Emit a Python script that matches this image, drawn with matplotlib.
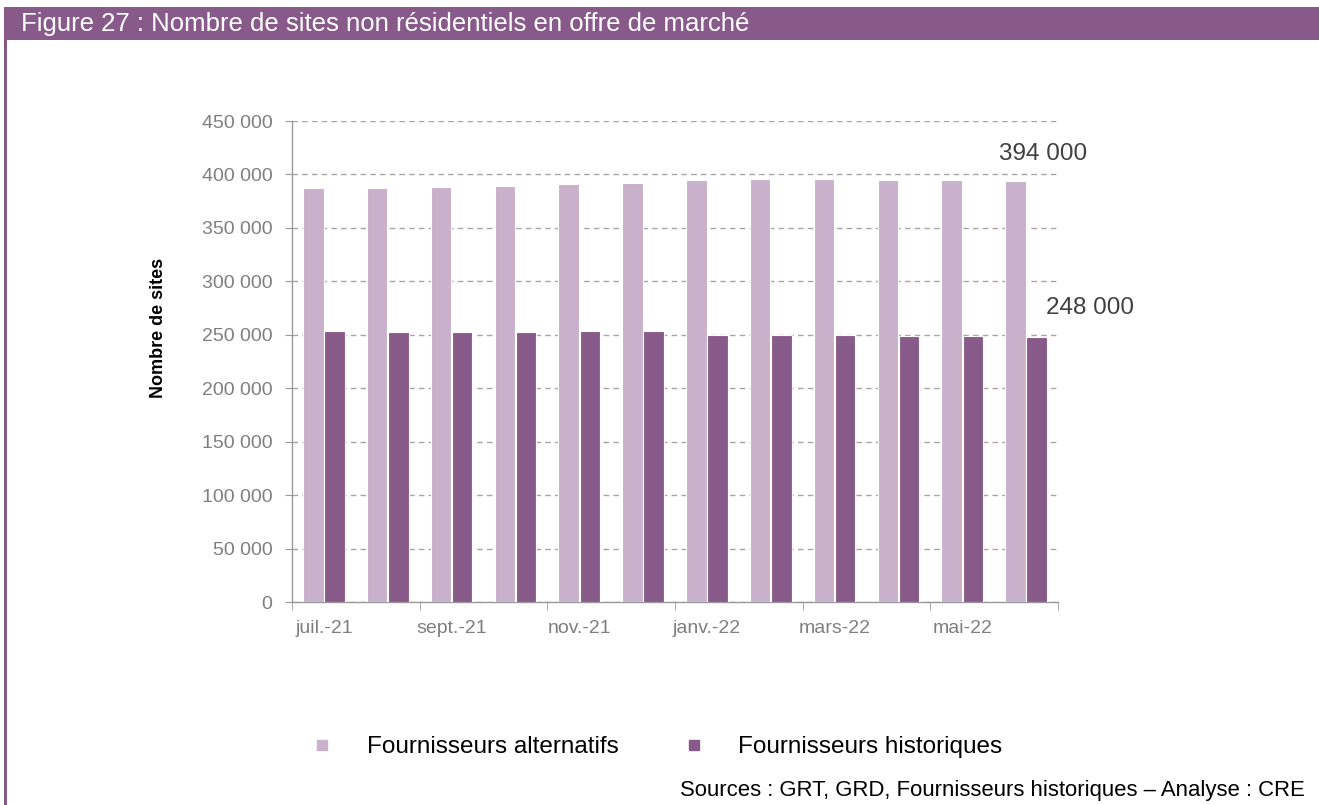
import matplotlib
matplotlib.use("Agg")
import matplotlib.pyplot as plt
from matplotlib.patches import Rectangle
from matplotlib.lines import Line2D
from matplotlib.ticker import FuncFormatter
import numpy as np

# ---- data ----
months = ["juil.-21", "août-21", "sept.-21", "oct.-21", "nov.-21", "déc.-21",
          "janv.-22", "févr.-22", "mars-22", "avr.-22", "mai-22", "juin-22"]
alternatifs = [387000, 387000, 388000, 389000, 391000, 392000,
               395000, 396000, 396000, 395000, 395000, 394000]
historiques = [254000, 253000, 253000, 253000, 254000, 254000,
               250000, 250000, 250000, 249000, 249000, 248000]
series_names = ["Fournisseurs alternatifs", "Fournisseurs historiques"]
title = "Figure 27 : Nombre de sites non résidentiels en offre de marché"
ylabel = "Nombre de sites"
source = "Sources : GRT, GRD, Fournisseurs historiques \u2013 Analyse : CRE"

c_light = "#C9B1CC"
c_dark = "#885A8A"
band = "#875A8A"

plt.rcParams['font.family'] = ['Liberation Sans', 'DejaVu Sans']

W, H = 1319, 805
fig = plt.figure(figsize=(W / 100, H / 100), dpi=100)

# title band and left border
fig.add_artist(Rectangle((4 / W, 1 - 40 / H), 1 - 4 / W, 33 / H,
                         transform=fig.transFigure, color=band, lw=0, zorder=0))
fig.add_artist(Rectangle((4 / W, 0), 2.5 / W, 1 - 40 / H,
                         transform=fig.transFigure, color=band, lw=0, zorder=0))
fig.text(21 / W, 1 - 24 / H, title, color="white", fontsize=18.5, va="center", ha="left")

ax = fig.add_axes([292 / W, 1 - 602 / H, (1058 - 292) / W, (602 - 121) / H])

x = np.arange(len(months))
bw = 0.32
off = 0.166
ax.bar(x - off, alternatifs, width=bw, color=c_light, edgecolor="white", linewidth=0.8, zorder=3)
ax.bar(x + off, historiques, width=bw, color=c_dark, edgecolor="white", linewidth=0.8, zorder=3)

ax.set_xlim(-0.5, len(months) - 0.5)
ax.set_ylim(0, 450000)
ax.set_yticks(np.arange(0, 450001, 50000))
ax.yaxis.set_major_formatter(FuncFormatter(lambda v, p: f"{int(v):,}".replace(",", " ")))
ax.grid(axis="y", linestyle=(0, (4, 3)), color="#A6A6A6", linewidth=1, zorder=0)

# x ticks: labels every 2 months at centers, tick marks at group boundaries
ax.set_xticks(x[::2])
ax.set_xticklabels(months[::2])
ax.set_xticks(np.arange(-0.5, len(months), 2), minor=True)
ax.tick_params(axis="x", which="major", length=0, pad=13, labelsize=14, labelcolor="#7F7F7F")
ax.tick_params(axis="x", which="minor", length=6, color="#999999", direction="out")
ax.tick_params(axis="y", length=5, color="#999999", pad=9, labelsize=14, labelcolor="#7F7F7F")

for s in ["top", "right"]:
    ax.spines[s].set_visible(False)
for s in ["left", "bottom"]:
    ax.spines[s].set_color("#999999")
    ax.spines[s].set_linewidth(1)

ax.set_ylabel(ylabel, fontsize=13, fontweight="bold", color="black")
ax.yaxis.set_label_coords(-0.163, 0.57)

# end-value annotations
fmt = lambda v: f"{int(v):,}".replace(",", " ")
ax.annotate(fmt(alternatifs[-1]), xy=(x[-1] - off, alternatifs[-1]), xytext=(20, 19.5),
            textcoords="offset points", ha="center", va="center", fontsize=17.5,
            color="#404040")
ax.annotate(fmt(historiques[-1]), xy=(x[-1] + off, historiques[-1]), xytext=(38.5, 21),
            textcoords="offset points", ha="center", va="center", fontsize=17.5,
            color="#404040", annotation_clip=False)

# legend
handles = [Line2D([], [], marker="s", linestyle="none", color=c_light, markersize=7.5),
           Line2D([], [], marker="s", linestyle="none", color=c_dark, markersize=7.5)]
fig.legend(handles, series_names, loc="center left", bbox_to_anchor=(310 / W, 1 - 747 / H),
           ncol=2, frameon=False, fontsize=17.5, handletextpad=1.33, columnspacing=2.6,
           handlelength=1.0, borderaxespad=0, borderpad=0)

fig.text(1305 / W, 1 - 790 / H, source, ha="right", va="center", fontsize=15.9, color="black")

fig.savefig("out.png", dpi=100)
